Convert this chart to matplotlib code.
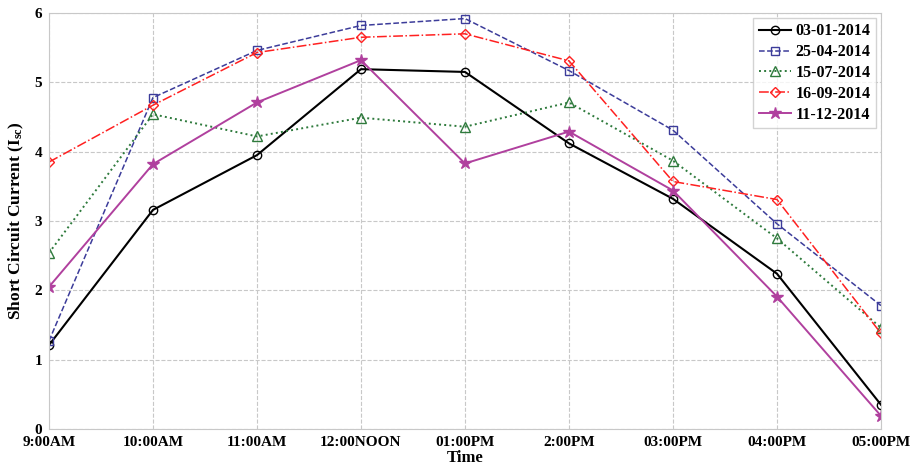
import matplotlib
matplotlib.use('Agg')
import matplotlib.pyplot as plt

plt.rcParams['font.family'] = 'Liberation Serif'
plt.rcParams['font.weight'] = 'bold'
plt.rcParams['mathtext.fontset'] = 'custom'
plt.rcParams['mathtext.rm'] = 'Liberation Serif:bold'
plt.rcParams['mathtext.it'] = 'Liberation Serif:bold'

times = ['9:00AM', '10:00AM', '11:00AM', '12:00NOON', '01:00PM',
         '2:00PM', '03:00PM', '04:00PM', '05:00PM']

d_0301 = [1.21, 3.16, 3.95, 5.19, 5.15, 4.12, 3.32, 2.24, 0.35]
d_2504 = [1.27, 4.78, 5.46, 5.82, 5.92, 5.17, 4.31, 2.96, 1.78]
d_1507 = [2.54, 4.54, 4.22, 4.49, 4.36, 4.71, 3.87, 2.75, 1.46]
d_1609 = [3.85, 4.67, 5.43, 5.65, 5.70, 5.31, 3.57, 3.31, 1.38]
d_1112 = [2.05, 3.82, 4.71, 5.32, 3.83, 4.29, 3.44, 1.91, 0.19]

fig = plt.figure(figsize=(9.17, 4.73), dpi=100)
ax = fig.add_axes([0.0534, 0.093, 0.9073, 0.8795])
x = range(len(times))

ax.plot(x, d_0301, color='black', ls='-', marker='o', mfc='none', ms=6, lw=1.5, label='03-01-2014')
ax.plot(x, d_2504, color='#3c3c9a', ls='--', marker='s', mfc='none', ms=6, lw=1.1, label='25-04-2014')
ax.plot(x, d_1507, color='#2e7a3c', ls=':', marker='^', mfc='none', ms=7, lw=1.4, label='15-07-2014')
ax.plot(x, d_1609, color='#ff2020', ls='-.', marker='D', mfc='none', ms=5, lw=1.1, label='16-09-2014')
ax.plot(x, d_1112, color='#b0409e', ls='-', marker='*', ms=9, lw=1.4, label='11-12-2014')

ax.set_xlim(0, len(times) - 1)
ax.set_ylim(0, 6)
ax.set_xticks(list(x))
ax.set_xticklabels(times)
ax.tick_params(labelsize=11, length=0, pad=5)
for lbl in ax.get_xticklabels() + ax.get_yticklabels():
    lbl.set_fontweight('bold')
ax.grid(True, ls='--', color='#c8c8c8', lw=0.8)
for s in ax.spines.values():
    s.set_color('#c8c8c8')

ax.set_xlabel('Time', fontsize=12, fontweight='bold', labelpad=1)
ax.set_ylabel('Short Circuit Current (I$_{sc}$)', fontsize=12.5, fontweight='bold', labelpad=6)

leg = ax.legend(loc='upper right', prop={'size': 11.5, 'weight': 'bold'}, fancybox=False,
                handlelength=2.0, borderpad=0.35, labelspacing=0.3, handletextpad=0.3,
                borderaxespad=0.3)
leg.get_frame().set_edgecolor('#c8c8c8')

fig.savefig('out.png', dpi=100)
